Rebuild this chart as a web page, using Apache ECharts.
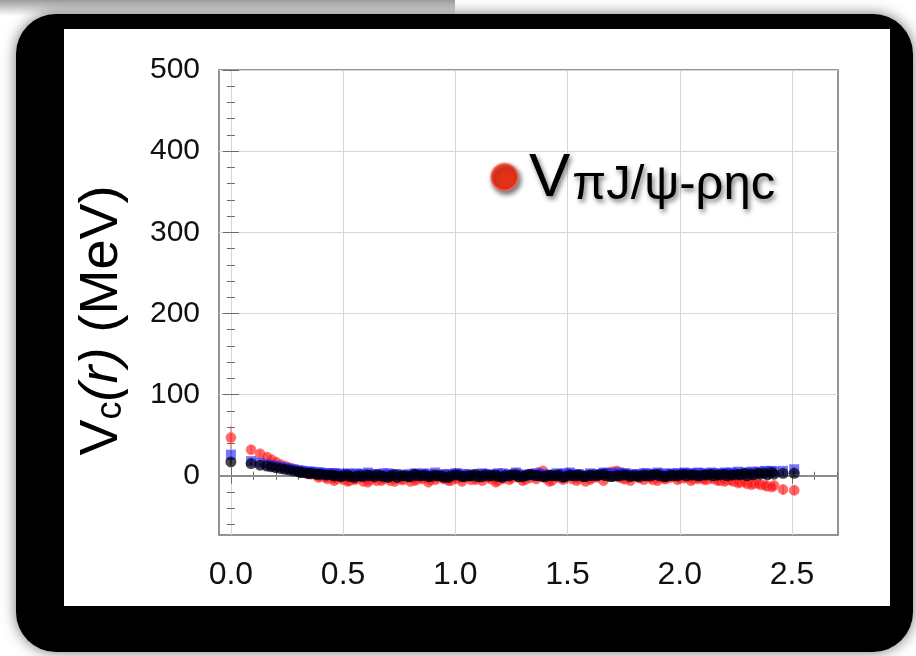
<!DOCTYPE html>
<html>
<head>
<meta charset="utf-8">
<script src="https://cdn.jsdelivr.net/npm/echarts@6/dist/echarts.min.js"></script>
<style>
  html, body { margin: 0; padding: 0; background: #fff; }
  #chart { width: 916px; height: 656px; }
</style>
</head>
<body>
<div id="chart"></div>
<script>
// on-axis separations r (fm)
const r = [
  0.00, 0.09, 0.13, 0.16, 0.18, 0.20, 0.22, 0.24, 0.26, 0.28,
  0.30, 0.32, 0.34, 0.36, 0.38, 0.40, 0.42, 0.45, 0.47, 0.50,
  0.53, 0.56, 0.59, 0.62, 0.65, 0.68, 0.71, 0.74, 0.77, 0.80,
  0.83, 0.86, 0.89, 0.92, 0.95, 0.98, 1.01, 1.04, 1.07, 1.10,
  1.13, 1.16, 1.19, 1.22, 1.25, 1.28, 1.31, 1.34, 1.37, 1.40,
  1.43, 1.46, 1.49, 1.52, 1.55, 1.58, 1.61, 1.64, 1.67, 1.70,
  1.73, 1.76, 1.79, 1.82, 1.85, 1.88, 1.91, 1.94, 1.97, 2.00,
  2.03, 2.06, 2.09, 2.12, 2.15, 2.18, 2.21, 2.24, 2.27, 2.30,
  2.33, 2.36, 2.39, 2.42, 2.46, 2.51
];

// V_c(r) in MeV at the on-axis separations
const vRed = [
  47, 32, 27, 23, 20, 17, 14, 12, 10, 8,
  6, 5, 3, 2, 1, -1, -2, -3, -4, -5,
  -6, -4, -7, -5, -6, -4, -6, -3, -5, -7,
  -4, -3, -5, -2, -4, -6, -3, -2, -5, -3,
  -1, -4, -6, 1, -3, -2, -5, 2, 4, -3,
  -6, -2, 0, -4, -3, -7, -2, 1, 3, 5,
  -2, -4, 0, -3, -1, -5, -2, -4, -1, -3,
  -2, -4, -3, -5, -4, -6, -5, -7, -8, -10,
  -9, -11, -13, -12, -17, -18
];
const errRed = [
  14, 5, 4, 4, 3, 3, 3, 3, 3, 3,
  3, 3, 3, 3, 3, 3, 3, 3, 3, 3,
  3, 3, 3, 3, 3, 3, 3, 3, 3, 3,
  3, 3, 3, 3, 3, 3, 3, 3, 3, 3,
  3, 3, 3, 3, 3, 3, 3, 3, 3, 3,
  3, 3, 3, 3, 3, 3, 3, 3, 3, 3,
  3, 3, 3, 3, 3, 3, 3, 3, 3, 3,
  3, 3, 3, 3, 3, 3, 3, 3, 3, 4,
  4, 4, 5, 5, 6, 6
];
const vBlue = [
  26, 18, 16, 14, 13, 12, 11, 10, 9, 8,
  7, 6, 5, 5, 4, 4, 3, 3, 3, 2,
  2, 3, 2, 1, 2, 3, 1, 2, 0, 1,
  2, 3, 1, 0, 2, 1, 3, 2, 0, 1,
  2, 1, 3, 0, 1, 2, 0, 1, 2, 1,
  0, 2, 3, 1, 2, 0, 1, 2, 3, 2,
  4, 3, 2, 1, 3, 2, 1, 2, 3, 2,
  3, 2, 3, 2, 3, 2, 3, 3, 2, 3,
  4, 4, 5, 5, 6, 8
];
const errBlue = [
  6, 3, 3, 2, 2, 2, 2, 2, 2, 2,
  2, 2, 2, 2, 2, 2, 2, 2, 2, 2,
  2, 2, 2, 2, 2, 2, 2, 2, 2, 2,
  2, 2, 2, 2, 2, 2, 2, 2, 2, 2,
  2, 2, 2, 2, 2, 2, 2, 2, 2, 2,
  2, 2, 2, 2, 2, 2, 2, 2, 2, 2,
  2, 2, 2, 2, 2, 2, 2, 2, 2, 2,
  2, 2, 2, 2, 2, 2, 2, 2, 2, 2,
  2, 3, 3, 3, 3, 3
];
const vBlack = [
  17, 15, 13, 12, 11, 10, 9, 8, 7, 6,
  5, 4, 3, 3, 2, 2, 1, 1, 0, 0,
  -1, 0, -1, 0, 1, -1, 0, -2, 0, -1,
  0, 1, -1, 0, -2, 0, 1, -1, 0, -1,
  1, 0, -1, 0, 1, -1, 0, 1, 0, -1,
  0, 1, -1, 0, 1, -1, 0, 1, 0, -1,
  0, 1, 0, -1, 0, 1, 0, -1, 0, 1,
  0, 1, 0, 1, 0, 1, 0, 1, 1, 0,
  1, 2, 1, 2, 3, 3
];
const errBlack = [
  4, 2, 2, 2, 2, 2, 2, 2, 2, 2,
  2, 2, 2, 2, 2, 2, 2, 2, 2, 2,
  2, 2, 2, 2, 2, 2, 2, 2, 2, 2,
  2, 2, 2, 2, 2, 2, 2, 2, 2, 2,
  2, 2, 2, 2, 2, 2, 2, 2, 2, 2,
  2, 2, 2, 2, 2, 2, 2, 2, 2, 2,
  2, 2, 2, 2, 2, 2, 2, 2, 2, 2,
  2, 2, 2, 2, 2, 2, 2, 2, 2, 2,
  2, 2, 2, 2, 3, 3
];

// off-axis separations r (fm) and their V_c(r)
const rOff = [
  0.31, 0.35, 0.39, 0.43, 0.46, 0.49, 0.52, 0.55, 0.58, 0.61,
  0.64, 0.67, 0.70, 0.73, 0.76, 0.79, 0.82, 0.85, 0.88, 0.91,
  0.94, 0.97, 1.00, 1.03, 1.06, 1.09, 1.12, 1.15, 1.18, 1.21,
  1.24, 1.27, 1.30, 1.33, 1.36, 1.39, 1.42, 1.45, 1.48, 1.51,
  1.54, 1.57, 1.60, 1.63, 1.66, 1.69, 1.72, 1.75, 1.78, 1.81,
  1.84, 1.87, 1.90, 1.93, 1.96, 1.99, 2.02, 2.05, 2.08, 2.11,
  2.14, 2.17, 2.20, 2.23, 2.26, 2.29, 2.32, 2.35, 2.38, 2.41
];
const vRedOff = [
  5, 2, -2, -4, -6, -3, -7, -5, -3, -8,
  -4, -6, -2, -7, -5, -3, -6, -4, -8, -5,
  -3, -6, -4, -7, -2, -5, -6, -3, -8, -4,
  -5, 3, -6, -3, -4, 6, -7, -2, -5, 2,
  -6, -3, -5, -2, -6, 4, 6, -4, -6, -2,
  -5, -3, -6, -4, -2, -5, -3, -6, -4, -5,
  -3, -6, -7, -6, -9, -8, -11, -10, -12, -14
];
const vBlueOff = [
  6, 5, 4, 3, 3, 2, 3, 1, 2, 4,
  2, 1, 3, 2, 0, 2, 3, 1, 2, 4,
  1, 2, 3, 1, 2, 0, 3, 2, 1, 3,
  2, 4, 1, 2, 3, 2, 1, 3, 2, 4,
  2, 1, 3, 2, 4, 3, 2, 3, 1, 2,
  3, 2, 4, 3, 2, 3, 4, 3, 4, 3,
  4, 3, 4, 4, 5, 4, 5, 5, 6, 6
];
const vBlackOff = [
  4, 3, 2, 1, 0, -1, 1, -2, 0, 1,
  -1, 0, -2, 1, 0, -1, 2, 0, -1, 1,
  0, -2, 1, -1, 0, 2, -1, 0, 1, -2,
  0, 1, -1, 2, 0, -1, 1, 0, -2, 1,
  0, -1, 1, 0, 2, -1, 0, 1, -1, 0,
  1, 0, 2, -1, 1, 0, 2, 1, 0, 1,
  2, 1, 2, 1, 2, 3, 2, 3, 3, 4
];
const errRedOff = 3, errBlueOff = 2, errBlackOff = 2;

// axis ranges and tick positions
const X_MIN = -0.053, X_MAX = 2.705;
const Y_MIN = -73, Y_MAX = 500;
const xMajor = [0, 0.5, 1.0, 1.5, 2.0, 2.5];
const xMinor = [0.1, 0.2, 0.3, 0.4, 0.6, 0.7, 0.8, 0.9, 1.1, 1.2, 1.3, 1.4,
                1.6, 1.7, 1.8, 1.9, 2.1, 2.2, 2.3, 2.4, 2.6, 2.7];
const yMajor = [0, 100, 200, 300, 400, 500];
const yMinor = [-60, -40, -20, 20, 40, 60, 80, 120, 140, 160, 180, 220, 240, 260, 280,
                320, 340, 360, 380, 420, 440, 460, 480];

const seriesName = 'VπJ/ψ-ρηc';
const FONT = '"Liberation Sans", Arial, Helvetica, sans-serif';
const TICK_COLOR = '#6a6a6a';

function pts(xs, vals) { return xs.map((x, i) => [x, vals[i]]); }
function bars(xs, vals, errs) {
  return xs.map((x, i) => {
    const e = Array.isArray(errs) ? errs[i] : errs;
    return [x, vals[i] - e, vals[i] + e];
  });
}

function errorBarSeries(data, color, z) {
  return {
    type: 'custom',
    z: z,
    silent: true,
    data: data,
    encode: { x: 0, y: [1, 2] },
    renderItem: function (params, api) {
      const a = api.coord([api.value(0), api.value(1)]);
      const b = api.coord([api.value(0), api.value(2)]);
      return {
        type: 'line',
        shape: { x1: a[0], y1: a[1], x2: b[0], y2: b[1] },
        style: { stroke: color, lineWidth: 1.5 }
      };
    }
  };
}

function tickAxis(dim, pos, values, len) {
  return {
    type: 'value',
    position: pos,
    min: dim === 'x' ? X_MIN : Y_MIN,
    max: dim === 'x' ? X_MAX : Y_MAX,
    axisLine: { show: false },
    axisTick: { show: true, inside: true, length: len, customValues: values,
                lineStyle: { color: TICK_COLOR, width: 1 } },
    axisLabel: { show: false },
    splitLine: { show: false }
  };
}

const shadowText = { textShadowColor: 'rgba(0,0,0,0.55)', textShadowBlur: 5,
                     textShadowOffsetX: 2, textShadowOffsetY: 3 };

const chart = echarts.init(document.getElementById('chart'));

chart.setOption({
  animation: false,
  backgroundColor: '#fff',
  graphic: [
    {
      type: 'rect', z: -100, silent: true,
      shape: { x: 0, y: 0, width: 455, height: 16 },
      style: { fill: new echarts.graphic.LinearGradient(0, 0, 0, 1, [
        { offset: 0, color: '#9c9c9c' }, { offset: 1, color: '#ffffff' }]) }
    },
    {
      type: 'rect', z: -99, silent: true,
      shape: { x: 16, y: 14, width: 897, height: 638, r: 40 },
      style: { fill: '#000', shadowBlur: 14, shadowColor: 'rgba(0,0,0,0.55)' }
    },
    {
      type: 'rect', z: -98, silent: true,
      shape: { x: 64, y: 29, width: 826, height: 577 },
      style: { fill: '#fff' }
    }
  ],
  grid: {
    left: 219, top: 70, right: 78, bottom: 121,
    show: true, borderColor: '#707070', borderWidth: 1.5,
    backgroundColor: 'transparent'
  },
  legend: {
    data: [{
      name: seriesName,
      icon: 'circle',
      itemStyle: { color: '#ff2200', shadowBlur: 5, shadowColor: 'rgba(0,0,0,0.7)',
                   shadowOffsetX: 2, shadowOffsetY: 3 }
    }],
    left: 485, top: 143,
    itemWidth: 27, itemHeight: 27,
    selectedMode: false,
    formatter: function () { return '{v|V}{s|πJ/ψ-ρηc}'; },
    textStyle: {
      rich: {
        v: Object.assign({ fontFamily: FONT, fontSize: 62, color: '#000', lineHeight: 66,
                           verticalAlign: 'bottom', padding: [0, 2, 0, 6] }, shadowText),
        s: Object.assign({ fontFamily: FONT, fontSize: 49, color: '#000', lineHeight: 66,
                           verticalAlign: 'bottom' }, shadowText)
      }
    }
  },
  xAxis: [
    {
      type: 'value', position: 'bottom', min: X_MIN, max: X_MAX,
      axisLine: { show: false },
      axisTick: { show: true, inside: true, length: 8, customValues: xMajor,
                  lineStyle: { color: TICK_COLOR, width: 1 } },
      axisLabel: { customValues: xMajor, margin: 24, color: '#111',
                   fontFamily: FONT, fontSize: 32,
                   formatter: v => v.toFixed(1) },
      splitLine: { show: true, lineStyle: { color: '#d6d6d6', width: 1 } }
    },
    tickAxis('x', 'bottom', xMinor, 4),
    tickAxis('x', 'top', xMajor, 8),
    tickAxis('x', 'top', xMinor, 4)
  ],
  yAxis: [
    {
      type: 'value', position: 'left', min: Y_MIN, max: Y_MAX,
      axisLine: { show: false },
      axisTick: { show: true, inside: true, length: 8, customValues: yMajor,
                  lineStyle: { color: TICK_COLOR, width: 1 } },
      axisLabel: { customValues: yMajor, margin: 19, color: '#111',
                   fontFamily: FONT, fontSize: 30 },
      splitLine: { show: true, lineStyle: { color: '#d6d6d6', width: 1 } },
      name: '{v|V}{c|c}{r|(r)}{m| (MeV)}',
      nameLocation: 'middle',
      nameRotate: 90,
      nameGap: 90,
      nameTextStyle: {
        padding: [0, 36, 0, 0],
        rich: {
          v: { fontFamily: FONT, fontSize: 54, color: '#000', verticalAlign: 'bottom', lineHeight: 60 },
          c: { fontFamily: FONT, fontSize: 36, color: '#000', verticalAlign: 'bottom', lineHeight: 53 },
          r: { fontFamily: FONT, fontSize: 54, color: '#000', fontStyle: 'italic', verticalAlign: 'bottom', lineHeight: 60 },
          m: { fontFamily: FONT, fontSize: 54, color: '#000', verticalAlign: 'bottom', lineHeight: 60 }
        }
      }
    },
    tickAxis('y', 'left', yMinor, 4),
    tickAxis('y', 'right', yMajor, 8),
    tickAxis('y', 'right', yMinor, 4)
  ],
  series: [
    errorBarSeries(bars(r, vRed, errRed).concat(bars(rOff, vRedOff, errRedOff)),
                   'rgba(255,60,60,0.6)', 3),
    {
      name: seriesName,
      type: 'scatter',
      z: 4,
      symbol: 'circle',
      symbolSize: 10,
      itemStyle: { color: 'rgba(255,20,20,0.8)', borderColor: 'rgba(255,110,110,0.8)', borderWidth: 1 },
      data: pts(r, vRed).concat(pts(rOff, vRedOff)),
      markLine: {
        silent: true,
        symbol: 'none',
        label: { show: false },
        lineStyle: { color: '#8c8c8c', width: 2, type: 'solid' },
        data: [{ yAxis: 0 }]
      }
    },
    errorBarSeries(bars(r, vBlue, errBlue).concat(bars(rOff, vBlueOff, errBlueOff)),
                   'rgba(70,70,255,0.55)', 5),
    {
      name: 'blue',
      type: 'scatter',
      z: 6,
      symbol: 'rect',
      symbolSize: 10,
      itemStyle: { color: 'rgba(40,40,255,0.8)' },
      data: pts(r, vBlue).concat(pts(rOff, vBlueOff))
    },
    errorBarSeries(bars(r, vBlack, errBlack).concat(bars(rOff, vBlackOff, errBlackOff)),
                   'rgba(0,0,30,0.7)', 7),
    {
      name: 'black',
      type: 'scatter',
      z: 8,
      symbol: 'circle',
      symbolSize: 11,
      itemStyle: { color: 'rgba(0,0,15,0.9)' },
      data: pts(r, vBlack).concat(pts(rOff, vBlackOff))
    }
  ]
});
</script>
</body>
</html>
